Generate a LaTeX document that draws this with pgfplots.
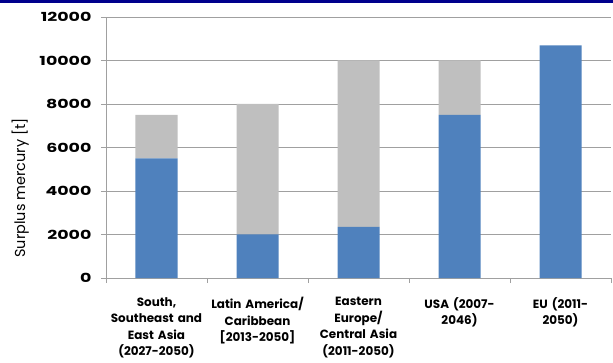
\documentclass[border=0pt]{standalone}
\usepackage{fontspec}
\setmainfont{Poppins}
\usepackage{graphicx}
\usepackage{pgfplots}
\pgfplotsset{compat=1.18}
\definecolor{barblue}{RGB}{79,129,189}
\definecolor{bargrey}{RGB}{191,191,191}
\definecolor{gridgrey}{RGB}{160,160,160}
\definecolor{topband}{RGB}{0,0,140}
\begin{document}
\begin{tikzpicture}
\path[use as bounding box] (0,0) rectangle (613bp,363bp);
\fill[topband] (0,360bp) rectangle (613bp,363bp);
\begin{axis}[
  at={(106bp,85bp)}, anchor=south west,
  scale only axis, width=505bp, height=261bp,
  ybar stacked, bar width=42bp,
  xmin=-0.5, xmax=4.5, ymin=0, ymax=12000,
  ytick={0,2000,...,12000},
  yticklabel={\scalebox{1.4}[1]{\pgfmathprintnumber[assume math mode=true,1000 sep={}]{\tick}}},
  xtick={0,1,2,3,4},
  xticklabels={{South,\\Southeast and\\East Asia\\(2027-2050)},{Latin America/\\Caribbean\\{[}2013-2050{]}},{Eastern\\Europe/\\Central Asia\\(2011-2050)},{USA (2007-\\2046)},{EU (2011-\\2050)}},
  x tick label style={align=center, font=\bfseries\fontsize{12}{16.5}\selectfont, text width=120bp, anchor=north, yshift=-11bp},
  y tick label style={font=\bfseries\fontsize{12.5}{13}\selectfont, xshift=-6bp},
  scaled y ticks=false,
  axis x line*=bottom, axis y line*=left,
  axis line style={gridgrey, line width=0.8bp, -},
  ymajorgrids, grid style={gridgrey, line width=0.9bp},
  tick style={gridgrey, line width=0.8bp},
  tick align=outside,
  major tick length=5bp,
  x tick style={draw=none},
  extra x ticks={-0.5,0.5,1.5,2.5,3.5,4.5},
  extra x tick labels={},
  extra x tick style={grid=none, x tick style={draw=gridgrey}, tick style={draw=gridgrey}},
  ylabel={Surplus mercury [t]},
  ylabel style={font=\fontsize{14.5}{16}\selectfont, at={(axis description cs:-0.170,0.345)}, anchor=center, rotate=0},
  clip=false,
]
\addplot[fill=barblue, draw=none] coordinates {(0,5500) (1,2000) (2,2350) (3,7500) (4,10700)};
\addplot[fill=bargrey, draw=none] coordinates {(0,2000) (1,6000) (2,7650) (3,2500) (4,0)};
\end{axis}
\end{tikzpicture}
\end{document}
